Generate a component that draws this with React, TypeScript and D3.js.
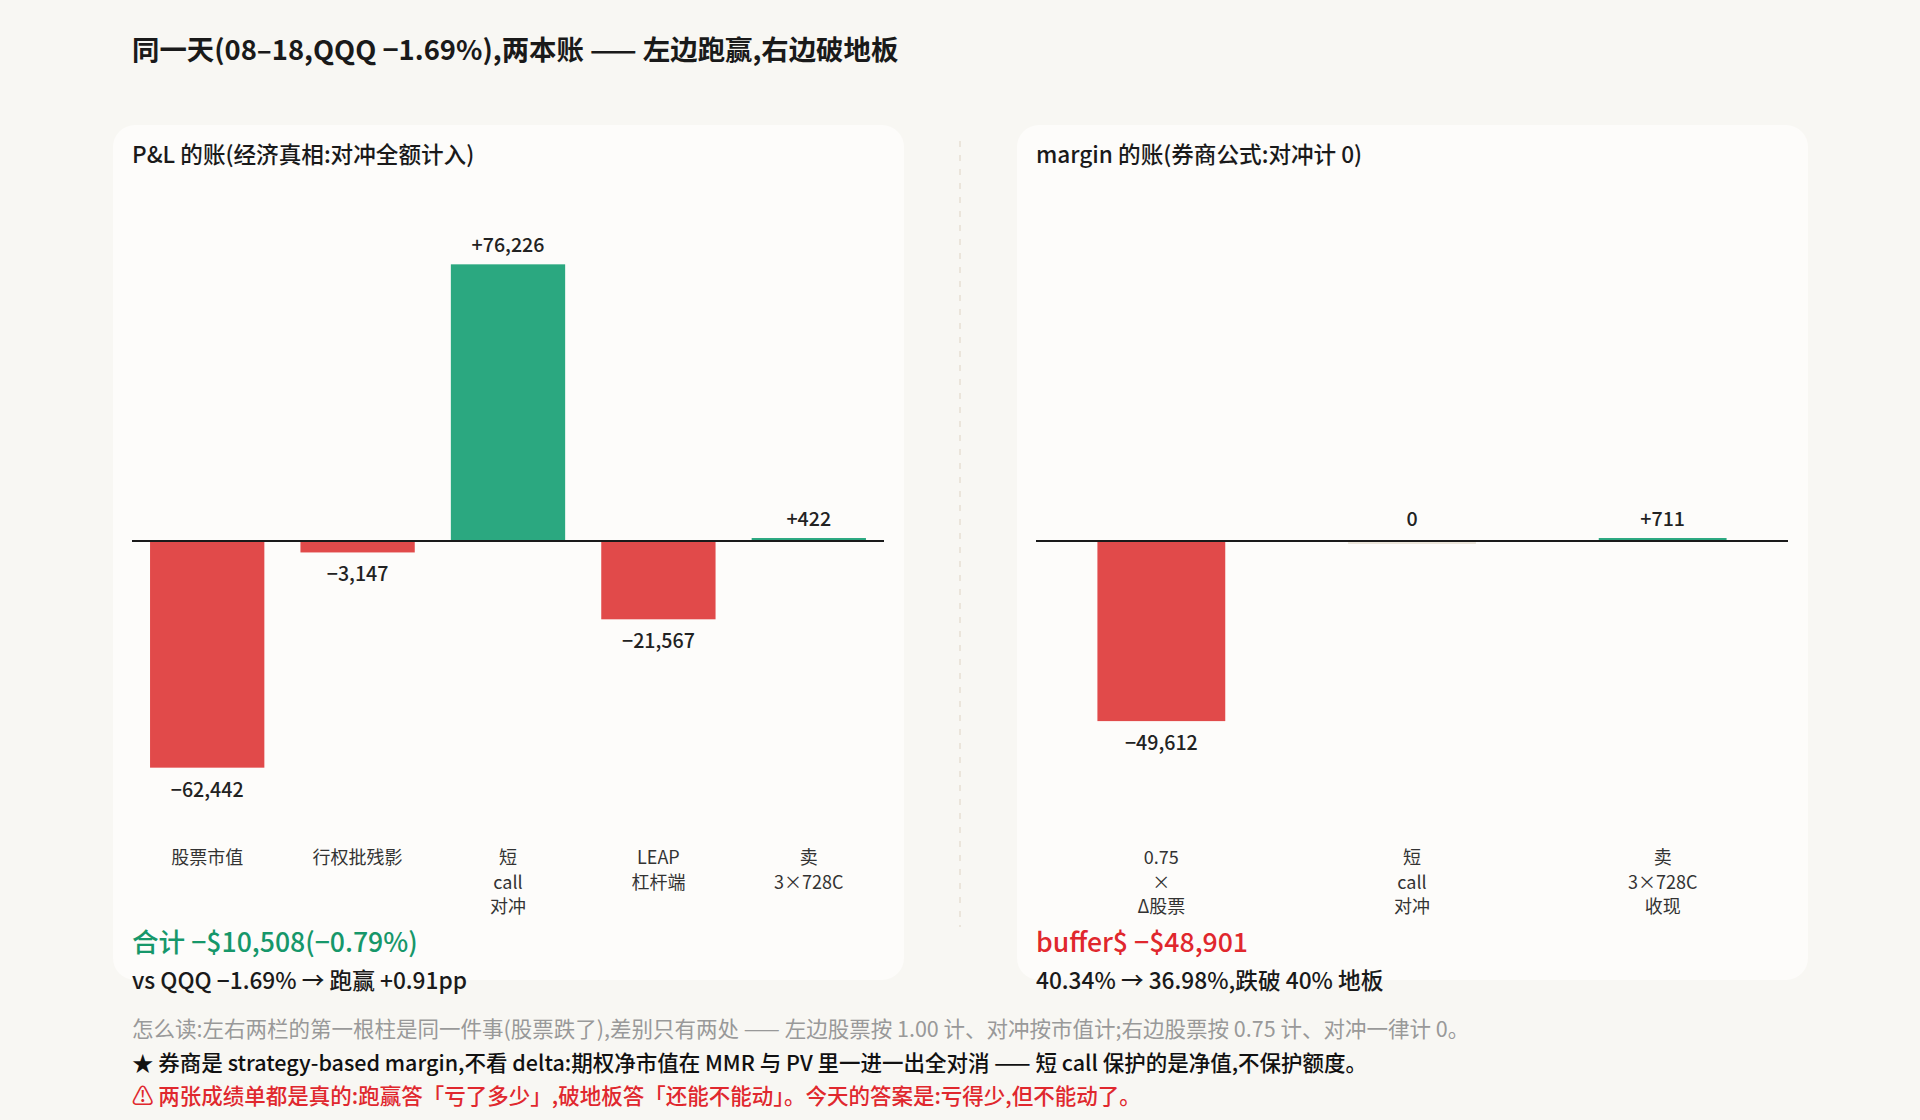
import React from 'react';
import * as d3 from 'd3';

// P&L ledger (left) and margin ledger (right) for the same day
const PNL_CATS = ['股票市值', '行权批残影', '短\ncall\n对冲', 'LEAP\n杠杆端', '卖\n3×728C'];
const PNL_VALUES = [-62442, -3147, 76226, -21567, 422];

const MARGIN_CATS = ['0.75\n×\nΔ股票', '短\ncall\n对冲', '卖\n3×728C\n收现'];
const MARGIN_VALUES = [-49612, 0, 711];

const TITLE = '同一天(08–18,QQQ −1.69%),两本账 —— 左边跑赢,右边破地板';
const PANEL_TITLES = ['P&L 的账(经济真相:对冲全额计入)', 'margin 的账(券商公式:对冲计 0)'];
const PANEL_TOTALS = ['合计 −$10,508(−0.79%)', 'buffer$ −$48,901'];
const PANEL_NOTES = ['vs QQQ −1.69% → 跑赢 +0.91pp', '40.34% → 36.98%,跌破 40% 地板'];
const FOOTNOTES = [
  '怎么读:左右两栏的第一根柱是同一件事(股票跌了),差别只有两处 —— 左边股票按 1.00 计、对冲按市值计;右边股票按 0.75 计、对冲一律计 0。',
  '★ 券商是 strategy-based margin,不看 delta:期权净市值在 MMR 与 PV 里一进一出全对消 —— 短 call 保护的是净值,不保护额度。',
  '⚠ 两张成绩单都是真的:跑赢答「亏了多少」,破地板答「还能不能动」。今天的答案是:亏得少,但不能动了。',
];

const W = 1920;
const H = 1120;
const FONT = "'Noto Sans CJK SC', 'Noto Sans', sans-serif";
const RED = '#e14a4a';
const GREEN = '#2ba880';
const ZERO = '#ebe5da';

const allValues = [...PNL_VALUES, ...MARGIN_VALUES];
const y = d3
  .scaleLinear()
  .domain([(d3.min(allValues) ?? 0) * 1.2, (d3.max(allValues) ?? 0) * 1.2])
  .range([813, 209]);

const fmt = (v: number) => (v === 0 ? '0' : d3.format('+,')(v));

interface PanelProps {
  x0: number;
  cats: string[];
  values: number[];
  pad: number;
  title: string;
  total: string;
  totalColor: string;
  note: string;
}

const Panel: React.FC<PanelProps> = ({ x0, cats, values, pad, title, total, totalColor, note }) => {
  const innerW = 752;
  const x = d3
    .scaleBand<string>()
    .domain(cats)
    .range([x0, x0 + innerW])
    .paddingInner(pad)
    .paddingOuter(pad / 2);
  const base = y(0);

  return (
    <g>
      <rect x={x0 - 19} y={125} width={791} height={855} rx={22} fill="#fdfcfa" />
      <text x={x0} y={163} fontSize={22.6} fontWeight={500} fill="#1a1a1a">
        {title}
      </text>
      {values.map((v, i) => {
        const c = cats[i];
        const bx = x(c) ?? 0;
        const bw = x.bandwidth();
        const h = Math.max(Math.abs(y(v) - base), 3);
        const top = v > 0 ? base - h : base;
        const fill = v > 0 ? GREEN : v < 0 ? RED : ZERO;
        return (
          <g key={c}>
            <rect x={bx} y={top} width={bw} height={h} fill={fill} />
            <text
              x={bx + bw / 2}
              y={v < 0 ? base + h + 29 : base - h - 12}
              textAnchor="middle"
              fontSize={19.6}
              fontWeight={500}
              fill="#222"
            >
              {fmt(v)}
            </text>
          </g>
        );
      })}
      <line x1={x0} x2={x0 + innerW} y1={base} y2={base} stroke="#1a1a1a" strokeWidth={2} />
      {cats.map((c) => (
        <text
          key={c}
          x={(x(c) ?? 0) + x.bandwidth() / 2}
          y={864}
          textAnchor="middle"
          fontSize={18}
          fill="#333"
        >
          {c.split('\n').map((line, j) => (
            <tspan key={j} x={(x(c) ?? 0) + x.bandwidth() / 2} dy={j === 0 ? 0 : 24.5}>
              {line}
            </tspan>
          ))}
        </text>
      ))}
      <text x={x0} y={952} fontSize={26.6} fontWeight={500} fill={totalColor}>
        {total}
      </text>
      <text x={x0} y={989} fontSize={22.7} fontWeight={500} fill="#1a1a1a">
        {note}
      </text>
    </g>
  );
};

const App: React.FC = () => {
  return (
    <svg
      width={W}
      height={H}
      style={{ position: 'absolute', left: 0, top: 0, background: '#f8f7f3' }}
      fontFamily={FONT}
    >
      <rect width={W} height={H} fill="#f8f7f3" />
      <text x={132} y={60} fontSize={27.4} fontWeight={600} fill="#1a1a1a">
        {TITLE}
      </text>
      <Panel
        x0={132}
        cats={PNL_CATS}
        values={PNL_VALUES}
        pad={0.24}
        title={PANEL_TITLES[0]}
        total={PANEL_TOTALS[0]}
        totalColor="#16976a"
        note={PANEL_NOTES[0]}
      />
      <Panel
        x0={1036}
        cats={MARGIN_CATS}
        values={MARGIN_VALUES}
        pad={0.49}
        title={PANEL_TITLES[1]}
        total={PANEL_TOTALS[1]}
        totalColor="#e0272d"
        note={PANEL_NOTES[1]}
      />
      <line x1={960} x2={960} y1={141} y2={927} stroke="#e6dfd3" strokeWidth={1.5} strokeDasharray="6 8" />
      <text x={132} y={1037} fontSize={21.5} fill="#999">
        {FOOTNOTES[0]}
      </text>
      <text x={132} y={1071} fontSize={21.5} fontWeight={500} fill="#111">
        {FOOTNOTES[1]}
      </text>
      <text x={132} y={1104} fontSize={21.5} fontWeight={500} fill="#e0282e">
        {FOOTNOTES[2]}
      </text>
    </svg>
  );
};

export default App;
